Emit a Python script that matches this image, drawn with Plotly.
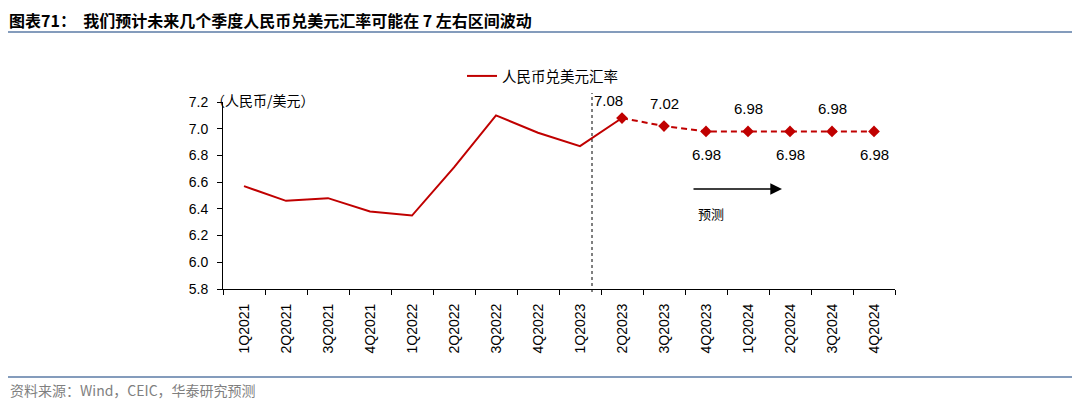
import plotly.graph_objects as go

quarters = ["1Q2021", "2Q2021", "3Q2021", "4Q2021", "1Q2022", "2Q2022", "3Q2022", "4Q2022",
            "1Q2023", "2Q2023", "3Q2023", "4Q2023", "1Q2024", "2Q2024", "3Q2024", "4Q2024"]
actual_q = quarters[:10]
actual_vals = [6.57, 6.46, 6.48, 6.38, 6.35, 6.71, 7.10, 6.97, 6.87, 7.08]
forecast_q = quarters[9:]
forecast_vals = [7.08, 7.02, 6.98, 6.98, 6.98, 6.98, 6.98]
forecast_labels = ["7.08", "7.02", "6.98", "6.98", "6.98", "6.98", "6.98"]
label_side = [1, 1, -1, 1, -1, 1, -1]   # 1 = above the point, -1 = below
y_ticks = [5.8, 6.0, 6.2, 6.4, 6.6, 6.8, 7.0, 7.2]

RED = "#C00000"
FONT = "Liberation Sans, Arial, sans-serif"
CJK = "Noto Sans CJK SC"

O = 8  # page body margin offset
L, R, T, B = 223 - O, 895 - O, 102 - O, 289 - O
W, H = 1080 - O, 403 - O
def px(x):
    return (x - O - L) / (R - L)
def py(y):
    return (B - (y - O)) / (B - T)

fig = go.Figure()
fig.add_trace(go.Scatter(x=actual_q, y=actual_vals, mode="lines", name="人民币兑美元汇率",
                         line=dict(color=RED, width=2)))
fig.add_trace(go.Scatter(x=forecast_q, y=forecast_vals, mode="lines+markers",
                         showlegend=False,
                         line=dict(color=RED, width=2, dash="6px,4px"),
                         marker=dict(symbol="diamond", size=9, color=RED)))

for i, (q, v, t, s) in enumerate(zip(forecast_q, forecast_vals, forecast_labels, label_side)):
    shift = 18 if i == 0 else 23
    fig.add_annotation(x=q, y=v, text=t, showarrow=False, yshift=s * shift,
                       xshift=-14 if i == 0 else 0,
                       font=dict(family=FONT, size=15, color="#000"))

fig.update_layout(
    width=W, height=H,
    margin=dict(l=L, r=W - R, t=T, b=H - B),
    plot_bgcolor="white", paper_bgcolor="white",
    legend=dict(x=px(462), y=py(76), xanchor="left", yanchor="middle",
                orientation="h", font=dict(family=CJK, size=14.5, color="#000"),
                bgcolor="rgba(0,0,0,0)"),
    xaxis=dict(type="category", categoryorder="array", categoryarray=quarters,
               range=[-0.5, 15.5], tickangle=-90, tickson="boundaries",
               ticks="outside", ticklen=5, tickcolor="#000", showline=True,
               linecolor="#000", linewidth=1, showgrid=False, ticklabelstandoff=8,
               tickfont=dict(family=FONT, size=14, color="#000")),
    yaxis=dict(range=[5.8, 7.2], tickvals=y_ticks, ticktext=[f"{v:.1f}" for v in y_ticks],
               ticks="outside", ticklen=5, tickcolor="#000", showline=True,
               linecolor="#000", linewidth=1, showgrid=False, zeroline=False,
               ticklabelstandoff=6,
               tickfont=dict(family=FONT, size=14, color="#000")),
)

shapes = [
    dict(type="line", xref="paper", yref="paper", x0=px(592), x1=px(592),
         y0=py(292), y1=py(93), line=dict(color="#000", width=1, dash="3px,3px")),
    dict(type="line", xref="paper", yref="paper", x0=px(0), x1=px(1080),
         y0=py(32), y1=py(32), line=dict(color="#5B7BA6", width=1.5)),
    dict(type="line", xref="paper", yref="paper", x0=px(0), x1=px(1080),
         y0=py(377), y1=py(377), line=dict(color="#5B7BA6", width=1.5)),
]
fig.update_layout(shapes=shapes)

fig.add_annotation(xref="paper", yref="paper", x=px(8), y=py(20), xanchor="left",
                   yanchor="middle", showarrow=False, borderpad=0,
                   text="<b>图表71：  我们预计未来几个季度人民币兑美元汇率可能在 7 左右区间波动</b>",
                   font=dict(family=CJK, size=16, color="#000"))
fig.add_annotation(xref="paper", yref="paper", x=px(8), y=py(390), xanchor="left",
                   yanchor="middle", showarrow=False,
                   text="资料来源：Wind，CEIC，华泰研究预测",
                   font=dict(family=CJK, size=14, color="#7f7f7f"))
fig.add_annotation(xref="paper", yref="paper", x=px(209), y=py(100), xanchor="left",
                   yanchor="middle", showarrow=False, text="（人民币/美元）",
                   font=dict(family=CJK, size=14, color="#000"))
# forecast arrow
fig.add_annotation(xref="x domain", yref="y domain", x=px(782), y=py(189),
                   axref="x domain", ayref="y domain", ax=px(692), ay=py(189),
                   showarrow=True, arrowhead=2, arrowsize=1.8, arrowwidth=1.3,
                   arrowcolor="#000", text="")
fig.add_annotation(xref="paper", yref="paper", x=px(711), y=py(213), xanchor="center",
                   yanchor="middle", showarrow=False, text="预测",
                   font=dict(family=CJK, size=13, color="#000"))

fig.write_html("out.html")
